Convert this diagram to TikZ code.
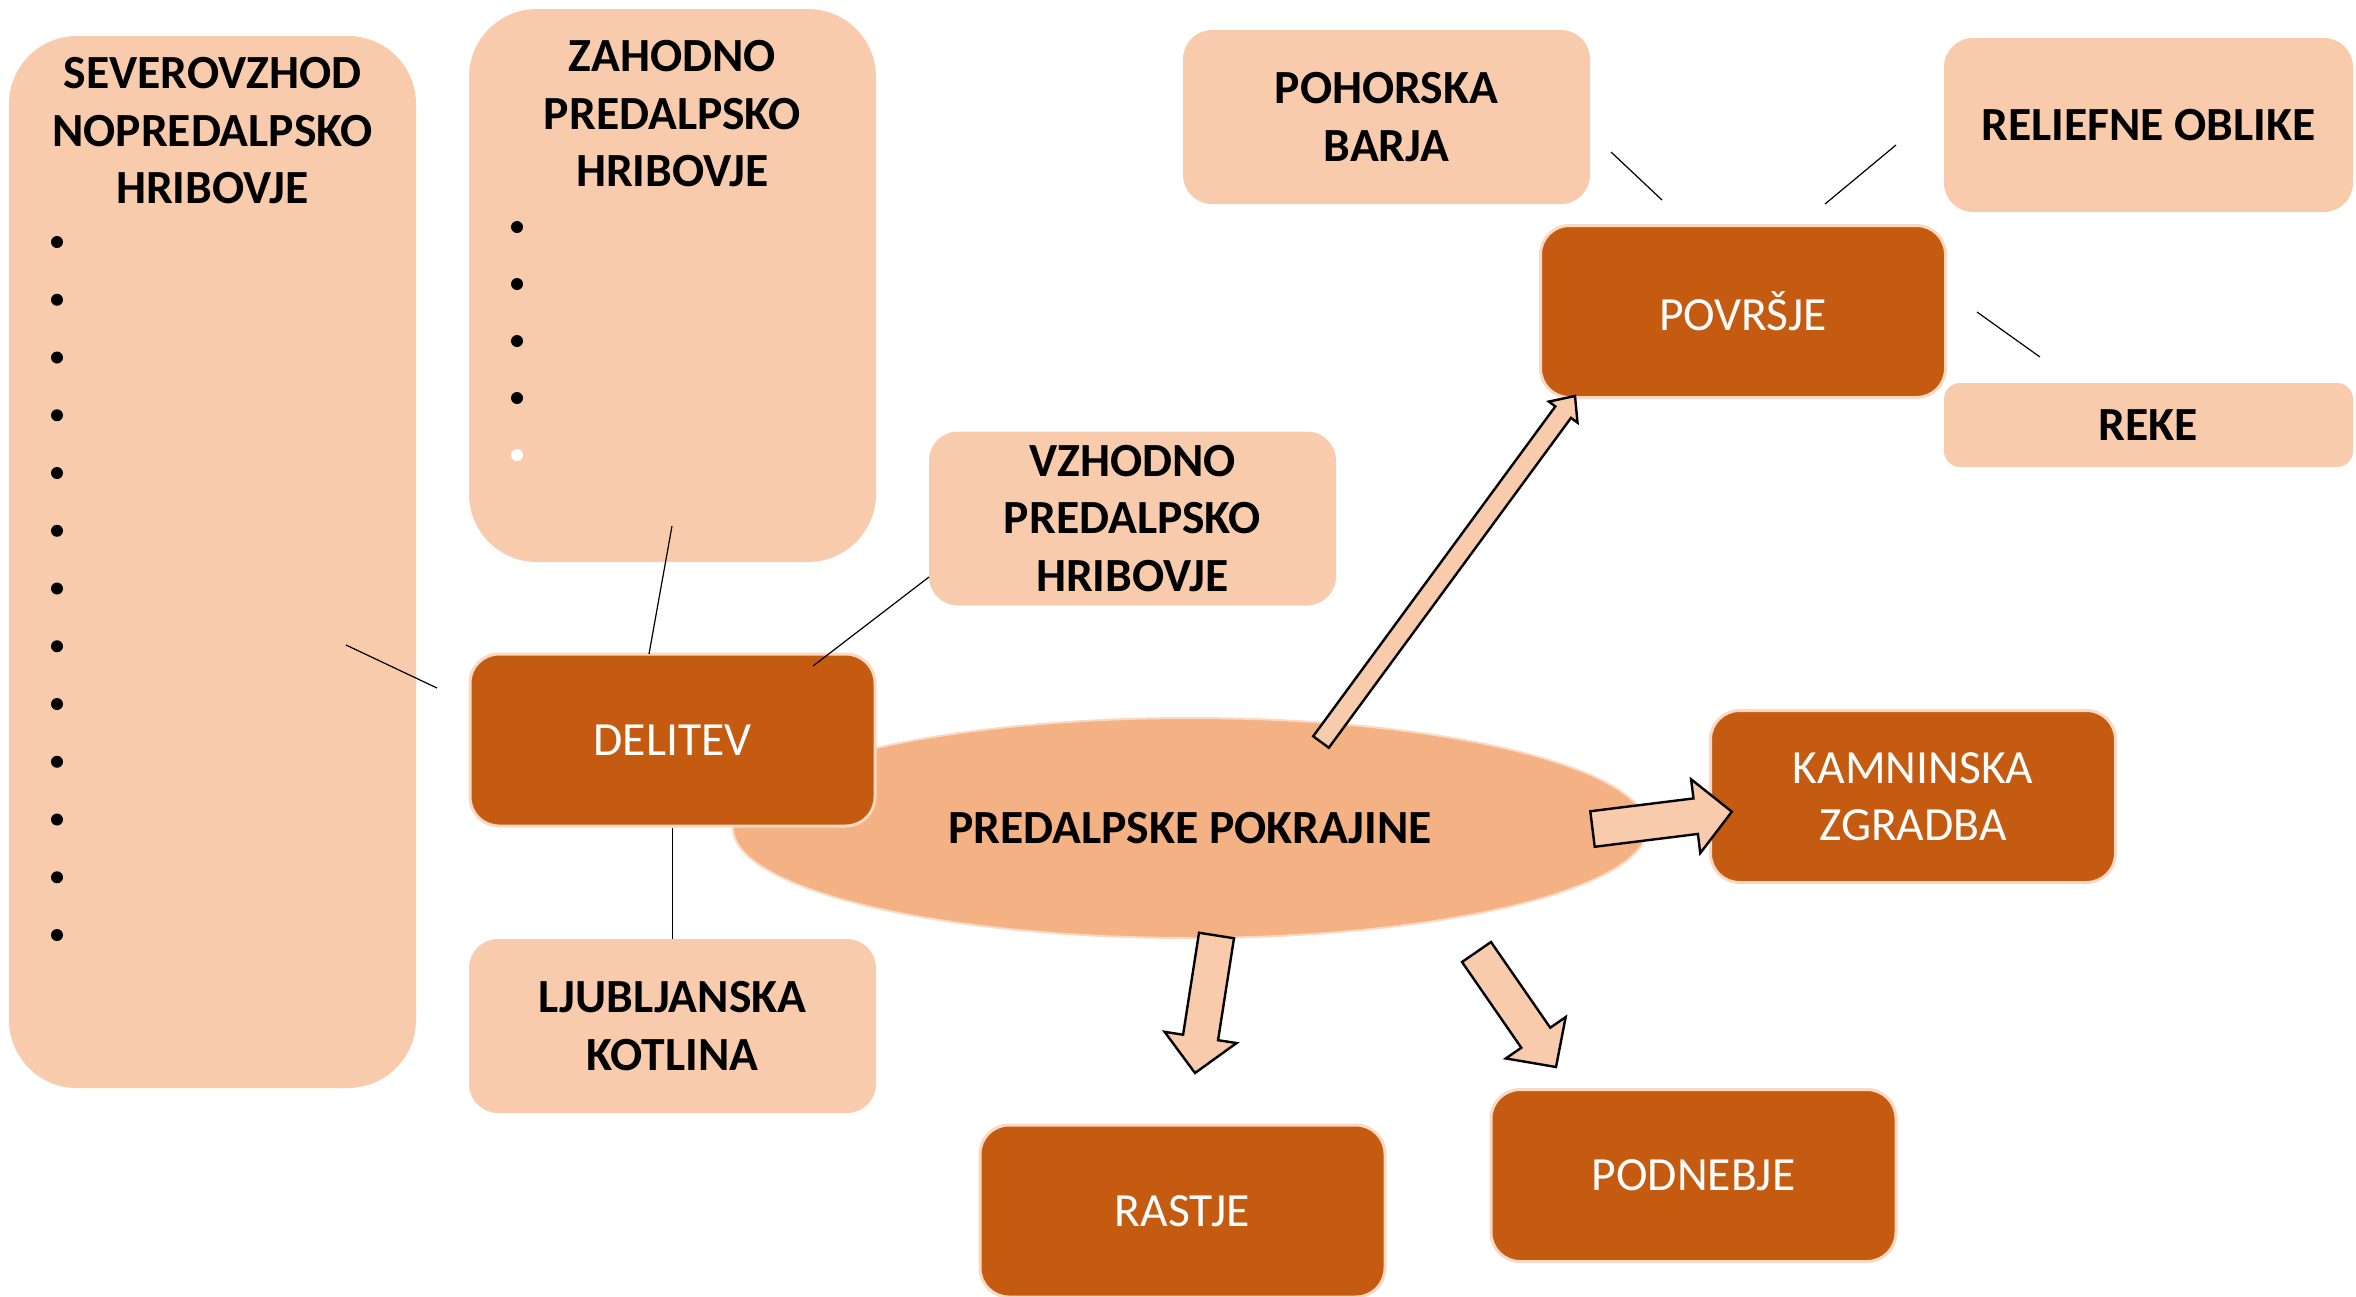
\documentclass[tikz,border=0pt]{standalone}
\usepackage{fontspec}
\setmainfont{Carlito}
\usetikzlibrary{calc,shapes.geometric}
\definecolor{lightor}{HTML}{F8CBAD}
\definecolor{darkor}{HTML}{C55A11}
\definecolor{midor}{HTML}{F4B183}
\definecolor{rimor}{HTML}{FAD9C3}
\tikzset{
  bfont/.style={font=\bfseries\fontsize{23.8}{28.75}\selectfont},
  rfont/.style={font=\fontsize{23.8}{28.75}\selectfont},
  lbox/.style={fill=lightor, draw=none, rounded corners=14.5pt, minimum width=203.5pt, minimum height=87pt, bfont, align=center, inner sep=0pt},
  dbox/.style={fill=darkor, draw=rimor, line width=1.5pt, rounded corners=14.5pt, minimum width=202.5pt, minimum height=86pt, text=white, rfont, align=center, inner sep=0pt},
  title/.style={bfont, align=center, inner sep=0pt},
  ell/.style={ellipse, fill=midor, draw=rimor, line width=1pt, minimum width=457pt, minimum height=110pt, bfont, inner sep=0pt},
  conn/.style={draw=black, line width=0.6pt},
  barrow/.style={fill=lightor, draw=black, line width=1.2pt, line join=miter}
}
\newcommand\blockarr[5]{%
  \coordinate (#2h) at ($(#2)!#5!(#1)$);
  \draw[barrow] ($(#1)!#3!90:(#2)$) -- ($(#2h)!#3!90:(#2)$) -- ($(#2h)!#4!90:(#2)$) -- (#2) -- ($(#2h)!#4!-90:(#2)$) -- ($(#2h)!#3!-90:(#2)$) -- ($(#1)!#3!-90:(#2)$) -- cycle;
}
\begin{document}
\begin{tikzpicture}[x=0.5pt,y=-0.5pt]
\useasboundingbox (0,0) rectangle (2356,1296);
% ellipse (behind the boxes)
\node[ell] (ell) at (1190,828) {PREDALPSKE POKRAJINE};
% left tall boxes
\node[lbox, minimum height=526pt, rounded corners=34pt] (sev) at (212.5,562) {};
\node[title] (sevt) at (212.5,131) {SEVEROVZHOD\\NOPREDALPSKO\\HRIBOVJE};
\foreach \i in {0,...,12} \fill (57,{242+57.75*\i}) circle (3pt);
\node[lbox, minimum height=276.5pt, rounded corners=34pt] (zah) at (672.5,285.5) {};
\node[title] (zaht) at (672.5,114) {ZAHODNO\\PREDALPSKO\\HRIBOVJE};
\foreach \i in {0,...,3} \fill (517,{227+57*\i}) circle (3pt);
\fill[white] (517,455) circle (3pt);
% other boxes
\node[lbox] (vzh) at (1132.5,518.5) {VZHODNO\\PREDALPSKO\\HRIBOVJE};
\node[dbox] (del) at (672.5,740) {DELITEV};
\node[lbox] (lju) at (672.5,1026) {LJUBLJANSKA\\KOTLINA};
\node[lbox] (poh) at (1386.5,117) {POHORSKA\\BARJA};
\node[lbox, minimum width=204.5pt] (rel) at (2148.5,125) {RELIEFNE OBLIKE};
\node[dbox] (pov) at (1743,311.5) {POVRŠJE};
\node[lbox, minimum width=204.5pt, minimum height=42pt, rounded corners=8pt] (reke) at (2148.5,425) {REKE};
\node[dbox] (kam) at (1913,796.5) {KAMNINSKA\\ZGRADBA};
\node[dbox] (ras) at (1182.5,1211) {RASTJE};
\node[dbox] (pod) at (1693.5,1175.5) {PODNEBJE};
% thin connectors
\coordinate (c1a) at (346,645); \coordinate (c1b) at (437,688);
\coordinate (c2a) at (672,526); \coordinate (c2b) at (649,654);
\coordinate (c3a) at (929,577); \coordinate (c3b) at (813,666);
\coordinate (c5a) at (1611,152); \coordinate (c5b) at (1662,200);
\coordinate (c6a) at (1896,145); \coordinate (c6b) at (1825,204);
\coordinate (c7a) at (1977,312); \coordinate (c7b) at (2040,357);
\draw[conn] (c1a) -- (c1b);
\draw[conn] (c2a) -- (c2b);
\draw[conn] (c3a) -- (c3b);
\draw[conn] (del.south) -- (lju.north);
\draw[conn] (c5a) -- (c5b);
\draw[conn] (c6a) -- (c6b);
\draw[conn] (c7a) -- (c7b);
% block arrows
\coordinate (a1t) at (1321,742); \coordinate (a1p) at (1575,396);
\coordinate (a2t) at (1592.5,829); \coordinate (a2p) at (1731.8,811.7);
\coordinate (a3t) at (1216.5,935.5); \coordinate (a3p) at (1195,1073);
\coordinate (a4t) at (1476.5,952); \coordinate (a4p) at (1556,1067);
\blockarr{a1t}{a1p}{4.85pt}{8.9pt}{10pt}
\blockarr{a2t}{a2p}{8.95pt}{18.6pt}{18.2pt}
\blockarr{a3t}{a3p}{8.85pt}{18.2pt}{18pt}
\blockarr{a4t}{a4p}{8.8pt}{18.2pt}{17.8pt}
\end{tikzpicture}
\end{document}
